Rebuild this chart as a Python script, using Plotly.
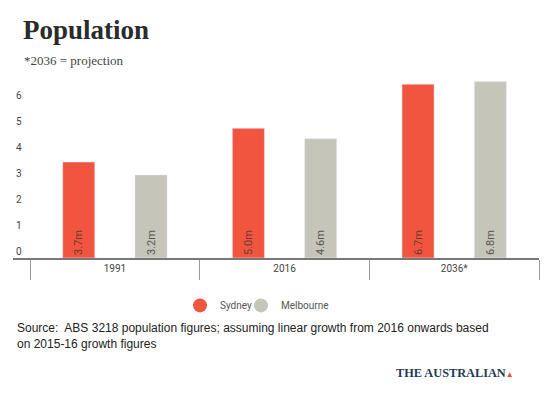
import plotly.graph_objects as go

years = ["1991", "2016", "2036*"]
sydney = [3.7, 5.0, 6.7]
melbourne = [3.2, 4.6, 6.8]
sydney_labels = ["3.7m", "5.0m", "6.7m"]
melbourne_labels = ["3.2m", "4.6m", "6.8m"]
y_ticks = [0, 1, 2, 3, 4, 5, 6]

RED = "#F2553F"
GREY = "#C5C5BA"

fig = go.Figure()
fig.add_trace(go.Bar(
    x=years, y=sydney, name="Sydney", marker_color=RED, showlegend=False,
    text=sydney_labels, textposition="inside", insidetextanchor="start",
    textangle=-90, textfont=dict(family="Roboto", size=11, color="#6a3a30"),
))
fig.add_trace(go.Bar(
    x=years, y=melbourne, name="Melbourne", marker_color=GREY, showlegend=False,
    text=melbourne_labels, textposition="inside", insidetextanchor="start",
    textangle=-90, textfont=dict(family="Roboto", size=11, color="#555555"),
))
# legend entries with circular markers
fig.add_trace(go.Scatter(x=[None], y=[None], mode="markers", name="Sydney",
                         marker=dict(color=RED, size=14, symbol="circle")))
fig.add_trace(go.Scatter(x=[None], y=[None], mode="markers", name="Melbourne",
                         marker=dict(color=GREY, size=14, symbol="circle")))
# invisible spacer entry so the last legend label is not clipped
fig.add_trace(go.Scatter(x=[None], y=[None], mode="markers", name=" ",
                         marker=dict(color="rgba(0,0,0,0)", size=1), hoverinfo="skip"))

fig.update_layout(
    width=542, height=396,
    margin=dict(l=5, r=11, t=69, b=146, autoexpand=False),
    paper_bgcolor="white", plot_bgcolor="white",
    barmode="group", bargap=0.148, bargroupgap=0.556,
    font=dict(family="Roboto", color="#444444", size=10),
    showlegend=True,
    legend=dict(orientation="h", x=0.3175, xanchor="left", y=-0.262, yanchor="middle",
                font=dict(family="Roboto", size=10, color="#555555"),
                itemwidth=30, entrywidth=16, tracegroupgap=0),
    xaxis=dict(
        type="category", range=[-0.6006, 2.5], automargin=False,
        showline=True, linecolor="#777777", linewidth=1.5,
        ticks="outside", tickson="boundaries", ticklen=20, tickcolor="#999999", tickwidth=1,
        tickfont=dict(family="Roboto", size=10, color="#444444"),
        showgrid=False, zeroline=False, fixedrange=True,
    ),
    yaxis=dict(
        range=[0, 6.977], tickvals=y_ticks, ticklabelposition="inside", automargin=False,
        ticklabelshift=-7, ticklabelstandoff=0,
        showgrid=False, zeroline=False, showline=False,
        tickfont=dict(family="Roboto", size=10, color="#444444"),
    ),
    annotations=[
        dict(text="<b>Population</b>", xref="paper", yref="paper", x=0.015, y=1.0,
             xanchor="left", yanchor="middle", yshift=47, showarrow=False,
             font=dict(family="Liberation Serif", size=27, color="#2b2b2b")),
        dict(text="*2036 = projection", xref="paper", yref="paper", x=0.017, y=1.0,
             xanchor="left", yanchor="middle", yshift=17, showarrow=False,
             font=dict(family="Liberation Serif", size=13, color="#444444")),
        dict(text="Source:  ABS 3218 population figures; assuming linear growth from 2016 onwards based<br>on 2015-16 growth figures",
             xref="paper", yref="paper", x=0.003, y=0, xanchor="left", yanchor="top",
             yshift=-61, align="left", showarrow=False,
             font=dict(family="Liberation Sans", size=12, color="#222222")),
        dict(text="<b>THE AUSTRALIAN</b><span style='color:#E8503A;font-size:8px'>▲</span>",
             xref="paper", yref="paper", x=0.956, y=0, xanchor="right", yanchor="middle",
             yshift=-115, showarrow=False,
             font=dict(family="Liberation Serif", size=12.3, color="#1f3a55")),
    ],
)

fig.write_html("out.html")
